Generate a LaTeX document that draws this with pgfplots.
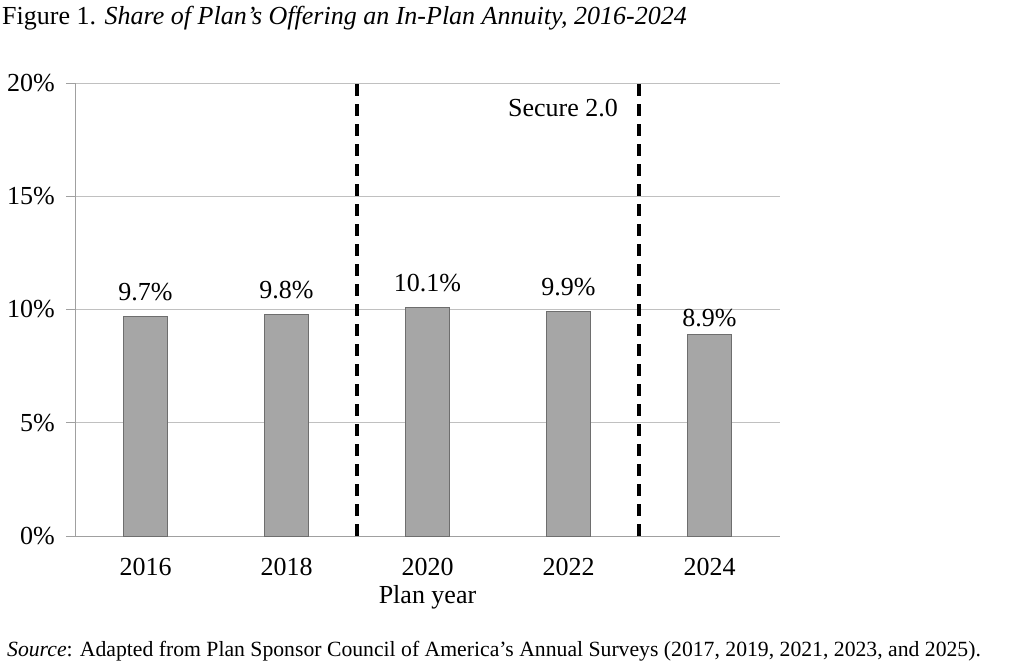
\documentclass[border=0pt]{standalone}
\usepackage{pgfplots}
\pgfplotsset{compat=1.18}
\usepackage{fontspec}
\setmainfont{Liberation Serif}

\definecolor{barfill}{HTML}{A6A6A6}
\definecolor{barline}{HTML}{6E6E6E}
\definecolor{gridgray}{HTML}{C0C0C0}
\definecolor{axisgray}{HTML}{A0A0A0}

\newcommand{\chartfont}{\fontsize{26bp}{30bp}\selectfont}

\begin{document}
\begin{tikzpicture}
\useasboundingbox (-75bp,-130bp) rectangle (949bp,536bp);
\begin{axis}[
  width=705bp, height=453bp, scale only axis,
  xmin=-0.5, xmax=4.5, ymin=0, ymax=20,
  axis x line*=bottom, axis y line*=left,
  axis line style={draw=axisgray, line width=0.8bp},
  /pgf/number format/assume math mode=true,
  xtick={0,1,2,3,4},
  xticklabels={2016,2018,2020,2022,2024},
  xtick style={draw=none},
  extra x ticks={-0.5,0.5,1.5,2.5,3.5,4.5},
  extra x tick labels={},
  extra x tick style={grid=none, tick align=outside, major tick length=8bp,
    tick style={draw=axisgray, line width=0.8bp}},
  ytick={0,5,10,15,20},
  yticklabels={0\%,5\%,10\%,15\%,20\%},
  ytick style={draw=axisgray, line width=0.8bp},
  tick align=outside, major tick length=9bp,
  ymajorgrids, grid style={draw=gridgray, line width=0.8bp},
  tick label style={font=\chartfont, inner sep=0bp},
  yticklabel style={xshift=-11bp},
  xticklabel style={anchor=north, yshift=-13bp},
  xlabel={Plan year},
  xlabel style={font=\chartfont, inner sep=0bp, at={(axis description cs:0.5,0)}, anchor=north, yshift=-49bp},
  ybar, bar width=44bp,
  nodes near coords={\pgfmathprintnumber[fixed,precision=1,fixed zerofill]{\pgfplotspointmeta}\%},
  nodes near coords style={font=\chartfont, inner sep=0bp, anchor=south, text=black},
  clip=false,
]
% survey years before the most recent one
\addplot[fill=barfill, draw=barline, line width=0.8bp, bar shift=0bp,
  nodes near coords style={yshift=15bp}]
  coordinates {(0,9.7) (1,9.8) (2,10.1) (3,9.9)};
% 2024 survey
\addplot[fill=barfill, draw=barline, line width=0.8bp, bar shift=0bp,
  nodes near coords style={yshift=7bp}]
  coordinates {(4,8.9)};

% policy markers
\draw[black, line width=3.3bp, dash pattern=on 12bp off 8bp] (axis cs:1.5,0) -- (axis cs:1.5,20);
\draw[black, line width=3.3bp, dash pattern=on 12bp off 8bp] (axis cs:3.5,0) -- (axis cs:3.5,20);
\node[font=\chartfont, inner sep=0bp, anchor=base east, xshift=-21bp] at (axis cs:3.5,18.5) {Secure 2.0};
\end{axis}

\node[anchor=base west, inner sep=0bp, font=\fontsize{26bp}{30bp}\selectfont] at (-73bp,511bp)
  {Figure 1. \textit{Share of Plan’s Offering an In-Plan Annuity, 2016-2024}};
\node[anchor=base west, inner sep=0bp, font=\fontsize{21.7bp}{25bp}\selectfont] at (-68bp,-120bp)
  {\textit{Source}: Adapted from Plan Sponsor Council of America’s Annual Surveys (2017, 2019, 2021, 2023, and 2025).};
\end{tikzpicture}
\end{document}
